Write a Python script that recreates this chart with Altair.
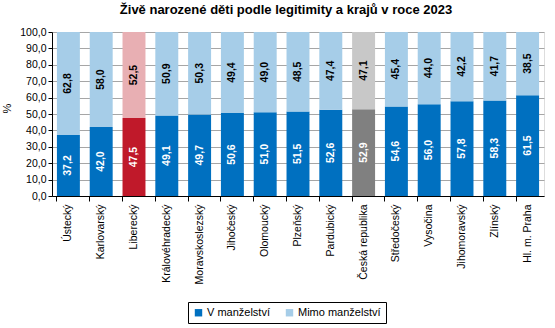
import altair as alt
import pandas as pd

categories = ["Ústecký", "Karlovarský", "Liberecký", "Královéhradecký", "Moravskoslezský",
              "Jihočeský", "Olomoucký", "Plzeňský", "Pardubický", "Česká republika",
              "Středočeský", "Vysočina", "Jihomoravský", "Zlínský", "Hl. m. Praha"]
v_manzelstvi = [37.2, 42.0, 47.5, 49.1, 49.7, 50.6, 51.0, 51.5, 52.6, 52.9, 54.6, 56.0, 57.8, 58.3, 61.5]
mimo_manzelstvi = [62.8, 58.0, 52.5, 50.9, 50.3, 49.4, 49.0, 48.5, 47.4, 47.1, 45.4, 44.0, 42.2, 41.7, 38.5]
y_ticks = [0, 10, 20, 30, 40, 50, 60, 70, 80, 90, 100]
series = ["V manželství", "Mimo manželství"]
highlight = {"Liberecký": "lib", "Česká republika": "cr"}

rows = []
for i, c in enumerate(categories):
    v, m = v_manzelstvi[i], mimo_manzelstvi[i]
    suffix = highlight.get(c, "")
    for j, (s, val, start) in enumerate([(series[0], v, 0.0), (series[1], m, v)]):
        key = s if not suffix else s + "_" + suffix
        rows.append({"cat": c, "series": s, "key": key, "value": val, "ord": j,
                     "y0": start, "y1": start + val, "mid": start + val / 2,
                     "tcol": "white" if j == 0 else "black"})
df = pd.DataFrame(rows)

color_domain = ["V manželství", "Mimo manželství", "V manželství_lib", "Mimo manželství_lib",
                "V manželství_cr", "Mimo manželství_cr"]
color_range = ["#0070C0", "#A6CDE8", "#C0192A", "#E8AFB3", "#808080", "#C8C8C8"]

FONT = "Liberation Sans"

x_axis = alt.Axis(labelAngle=-90, bandPosition=0, ticks=True, tickSize=5,
                  tickColor="black", domainColor="black", labelFontSize=10.5,
                  labelFont=FONT, labelColor="black", labelPadding=3,
                  labelAlign="right", labelBaseline="middle", grid=False)
y_axis = alt.Axis(values=y_ticks, labelOverlap=False,
                  labelExpr="replace(format(datum.value, '.1f'), '.', ',')",
                  labelFontSize=10.5, labelFont=FONT, labelColor="black",
                  tickSize=4, tickColor="black", domainColor="black", labelPadding=2,
                  gridColor="#A6A6A6", gridWidth=1,
                  titleFontSize=11, titleFont=FONT, titleFontWeight="normal",
                  titleX=-45, titleY=76, titleAngle=-90, titleBaseline="middle",
                  titleAlign="center", titleColor="black")
x_scale = alt.Scale(paddingInner=0.3, paddingOuter=0.15)
y_scale = alt.Scale(domain=[0, 100])

base = alt.Chart(df)

bars = base.mark_bar().encode(
    x=alt.X("cat:N", sort=categories, title=None, scale=x_scale, axis=x_axis),
    y=alt.Y("y0:Q", title="%", scale=y_scale, axis=y_axis),
    y2="y1:Q",
    color=alt.Color("key:N", scale=alt.Scale(domain=color_domain, range=color_range),
                    legend=alt.Legend(values=series, title=None, orient="none",
                                      direction="horizontal", legendX=136, legendY=270,
                                      symbolType="square", symbolSize=55, symbolStrokeWidth=0,
                                      labelFontSize=11, labelFont=FONT, labelColor="black",
                                      strokeColor="black", padding=5, columnPadding=14,
                                      symbolOffset=0, labelOffset=3)),
    order=alt.Order("ord:Q"),
)

labels = base.mark_text(angle=270, fontSize=10.5, fontWeight="bold", font=FONT,
                        baseline="middle", align="center").encode(
    x=alt.X("cat:N", sort=categories, title=None, scale=x_scale, axis=x_axis),
    y=alt.Y("mid:Q", title="%", scale=y_scale, axis=y_axis),
    text=alt.Text("lbl:N"),
    color=alt.Color("tcol:N", scale=None),
).transform_calculate(lbl="replace(format(datum.value, '.1f'), '.', ',')")

chart = alt.layer(bars, labels).properties(
    width=492, height=164,
    title=alt.Title("Živě narozené děti podle legitimity a krajů v roce 2023",
                    fontSize=13, font=FONT, fontWeight="bold", color="black",
                    anchor="middle", dx=-12, offset=10),
    autosize=alt.AutoSizeParams(type="none"),
    padding={"left": 52, "top": 32, "right": 11, "bottom": 132},
).configure_view(stroke="black", strokeWidth=1).configure(background="white")

chart.save("out.html", embed_options={"renderer": "svg", "actions": False})
